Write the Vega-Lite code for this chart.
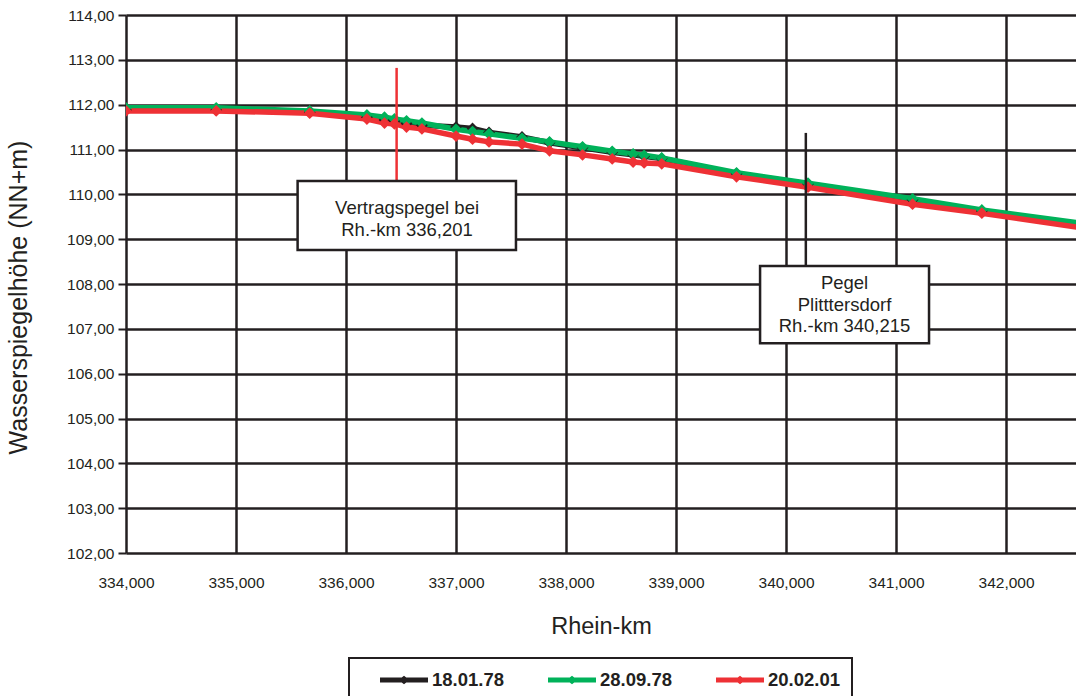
{
  "$schema": "https://vega.github.io/schema/vega-lite/v6.json",
  "width": 950,
  "height": 538,
  "autosize": {"type": "none"},
  "padding": {"left": 126, "top": 15, "right": 0, "bottom": 143},
  "background": "white",
  "config": {
    "view": {"stroke": null},
    "font": "Liberation Sans",
    "axis": {"labelFont": "Liberation Sans", "titleFont": "Liberation Sans", "labelColor": "#231f20", "titleColor": "#231f20", "titleFontWeight": "normal", "labelFlush": false},
    "legend": {"strokeWidth": 2}
  },
  "datasets": {
    "lines": [
      {"km": 334.0, "h": 111.88, "s": "18.01.78"},
      {"km": 334.82, "h": 111.88, "s": "18.01.78"},
      {"km": 335.67, "h": 111.83, "s": "18.01.78"},
      {"km": 336.19, "h": 111.72, "s": "18.01.78"},
      {"km": 336.35, "h": 111.66, "s": "18.01.78"},
      {"km": 336.44, "h": 111.63, "s": "18.01.78"},
      {"km": 336.55, "h": 111.58, "s": "18.01.78"},
      {"km": 336.69, "h": 111.54, "s": "18.01.78"},
      {"km": 337.0, "h": 111.5, "s": "18.01.78"},
      {"km": 337.15, "h": 111.47, "s": "18.01.78"},
      {"km": 337.3, "h": 111.38, "s": "18.01.78"},
      {"km": 337.6, "h": 111.28, "s": "18.01.78"},
      {"km": 337.85, "h": 111.15, "s": "18.01.78"},
      {"km": 338.15, "h": 111.04, "s": "18.01.78"},
      {"km": 338.42, "h": 110.94, "s": "18.01.78"},
      {"km": 338.61, "h": 110.88, "s": "18.01.78"},
      {"km": 338.71, "h": 110.85, "s": "18.01.78"},
      {"km": 338.87, "h": 110.8, "s": "18.01.78"},
      {"km": 339.55, "h": 110.46, "s": "18.01.78"},
      {"km": 340.2, "h": 110.23, "s": "18.01.78"},
      {"km": 341.15, "h": 109.88, "s": "18.01.78"},
      {"km": 341.78, "h": 109.63, "s": "18.01.78"},
      {"km": 343.0, "h": 109.23, "s": "18.01.78"},
      {"km": 334.0, "h": 111.93, "s": "28.09.78"},
      {"km": 334.82, "h": 111.93, "s": "28.09.78"},
      {"km": 335.67, "h": 111.86, "s": "28.09.78"},
      {"km": 336.19, "h": 111.77, "s": "28.09.78"},
      {"km": 336.35, "h": 111.72, "s": "28.09.78"},
      {"km": 336.44, "h": 111.68, "s": "28.09.78"},
      {"km": 336.55, "h": 111.64, "s": "28.09.78"},
      {"km": 336.69, "h": 111.59, "s": "28.09.78"},
      {"km": 337.0, "h": 111.45, "s": "28.09.78"},
      {"km": 337.15, "h": 111.4, "s": "28.09.78"},
      {"km": 337.3, "h": 111.35, "s": "28.09.78"},
      {"km": 337.6, "h": 111.25, "s": "28.09.78"},
      {"km": 337.85, "h": 111.17, "s": "28.09.78"},
      {"km": 338.15, "h": 111.06, "s": "28.09.78"},
      {"km": 338.42, "h": 110.96, "s": "28.09.78"},
      {"km": 338.61, "h": 110.9, "s": "28.09.78"},
      {"km": 338.71, "h": 110.87, "s": "28.09.78"},
      {"km": 338.87, "h": 110.81, "s": "28.09.78"},
      {"km": 339.55, "h": 110.48, "s": "28.09.78"},
      {"km": 340.2, "h": 110.25, "s": "28.09.78"},
      {"km": 341.15, "h": 109.9, "s": "28.09.78"},
      {"km": 341.78, "h": 109.65, "s": "28.09.78"},
      {"km": 343.0, "h": 109.25, "s": "28.09.78"},
      {"km": 334.0, "h": 111.86, "s": "20.02.01"},
      {"km": 334.82, "h": 111.86, "s": "20.02.01"},
      {"km": 335.67, "h": 111.81, "s": "20.02.01"},
      {"km": 336.19, "h": 111.68, "s": "20.02.01"},
      {"km": 336.35, "h": 111.59, "s": "20.02.01"},
      {"km": 336.44, "h": 111.57, "s": "20.02.01"},
      {"km": 336.55, "h": 111.5, "s": "20.02.01"},
      {"km": 336.69, "h": 111.46, "s": "20.02.01"},
      {"km": 337.0, "h": 111.3, "s": "20.02.01"},
      {"km": 337.15, "h": 111.23, "s": "20.02.01"},
      {"km": 337.3, "h": 111.17, "s": "20.02.01"},
      {"km": 337.6, "h": 111.12, "s": "20.02.01"},
      {"km": 337.85, "h": 110.97, "s": "20.02.01"},
      {"km": 338.15, "h": 110.88, "s": "20.02.01"},
      {"km": 338.42, "h": 110.79, "s": "20.02.01"},
      {"km": 338.61, "h": 110.72, "s": "20.02.01"},
      {"km": 338.71, "h": 110.7, "s": "20.02.01"},
      {"km": 338.87, "h": 110.68, "s": "20.02.01"},
      {"km": 339.55, "h": 110.39, "s": "20.02.01"},
      {"km": 340.2, "h": 110.16, "s": "20.02.01"},
      {"km": 341.15, "h": 109.78, "s": "20.02.01"},
      {"km": 341.78, "h": 109.58, "s": "20.02.01"},
      {"km": 343.0, "h": 109.14, "s": "20.02.01"}
    ],
    "marks": [
      {"km": 336.46, "top": 112.82, "bottom": 110.3, "c": "#ee3135"},
      {"km": 340.18, "top": 111.37, "bottom": 108.4, "c": "#231f20"}
    ],
    "boxes": [
      {"x1": 335.56, "x2": 337.545, "y1": 110.3, "y2": 108.76, "cx": 336.555, "cy": 109.695, "label": "Vertragspegel bei\nRh.-km 336,201"},
      {"x1": 339.764, "x2": 341.3, "y1": 108.4, "y2": 106.68, "cx": 340.532, "cy": 108.022, "label": "Pegel\nPlitttersdorf\nRh.-km 340,215"}
    ]
  },
  "layer": [
    {
      "data": {"name": "lines"},
      "mark": {"type": "line", "strokeWidth": 5.5, "clip": true, "point": {"filled": true, "shape": "diamond", "size": 140, "opacity": 1}},
      "encoding": {
        "x": {
          "field": "km", "type": "quantitative",
          "scale": {"domain": [334, 342.636], "nice": false, "zero": false},
          "axis": {
            "values": [334, 335, 336, 337, 338, 339, 340, 341, 342],
            "labelExpr": "replace(format(datum.value, '.3f'), '.', ',')",
            "grid": true, "gridColor": "#231f20", "gridWidth": 2.5, "gridOpacity": 1,
            "domain": false, "ticks": false,
            "labelFontSize": 15.5, "labelPadding": 22,
            "title": "Rhein-km", "titleFontSize": 23.5, "titlePadding": 24
          }
        },
        "y": {
          "field": "h", "type": "quantitative",
          "scale": {"domain": [102, 114], "nice": false, "zero": false},
          "axis": {
            "values": [102, 103, 104, 105, 106, 107, 108, 109, 110, 111, 112, 113, 114],
            "labelExpr": "replace(format(datum.value, '.2f'), '.', ',')",
            "grid": true, "gridColor": "#231f20", "gridWidth": 2.5, "gridOpacity": 1,
            "domain": false, "ticks": true, "tickSize": 8, "tickWidth": 2, "tickColor": "#231f20",
            "labelFontSize": 15.5, "labelPadding": 4,
            "title": "Wasserspiegelhöhe (NN+m)", "titleFontSize": 25, "titlePadding": 35, "titleY": 282
          }
        },
        "color": {
          "field": "s", "type": "nominal", "sort": null,
          "scale": {"domain": ["18.01.78", "28.09.78", "20.02.01"], "range": ["#231f20", "#00b25a", "#ee3135"]},
          "legend": {
            "title": " ", "titleOrient": "left", "titleFontSize": 10, "titlePadding": 20,
            "orient": "none", "legendX": 223, "legendY": 643, "direction": "horizontal",
            "strokeColor": "#231f20", "fillColor": "white", "padding": 11,
            "symbolType": "M-1,-0.1H1V0.1H-1Z M-0.23,0L0,-0.18L0.23,0L0,0.18Z",
            "symbolSize": 2304, "symbolStrokeWidth": 0, "clipHeight": 22,
            "labelFontSize": 18.5, "labelFontWeight": "bold", "labelColor": "#231f20", "labelFont": "Liberation Sans",
            "labelOffset": 4, "columnPadding": 43,
            "encode": {"symbols": {"update": {"fill": {"scale": "color", "field": "value"}, "strokeWidth": {"value": 0}}}}
          }
        }
      }
    },
    {
      "data": {"name": "marks"},
      "mark": {"type": "rule", "strokeWidth": 2.5},
      "encoding": {
        "x": {"field": "km", "type": "quantitative"},
        "y": {"field": "top", "type": "quantitative"},
        "y2": {"field": "bottom"},
        "color": {"field": "c", "type": "nominal", "scale": null, "legend": null}
      }
    },
    {
      "data": {"name": "boxes"},
      "mark": {"type": "rect", "fill": "white", "stroke": "#231f20", "strokeWidth": 2.5},
      "encoding": {
        "x": {"field": "x1", "type": "quantitative"},
        "x2": {"field": "x2"},
        "y": {"field": "y1", "type": "quantitative"},
        "y2": {"field": "y2"}
      }
    },
    {
      "data": {"name": "boxes"},
      "mark": {"type": "text", "fontSize": 18.5, "lineBreak": "\n", "lineHeight": 21.5, "color": "#231f20", "align": "center", "baseline": "middle", "font": "Liberation Sans"},
      "encoding": {
        "x": {"field": "cx", "type": "quantitative"},
        "y": {"field": "cy", "type": "quantitative"},
        "text": {"field": "label"}
      }
    }
  ]
}
